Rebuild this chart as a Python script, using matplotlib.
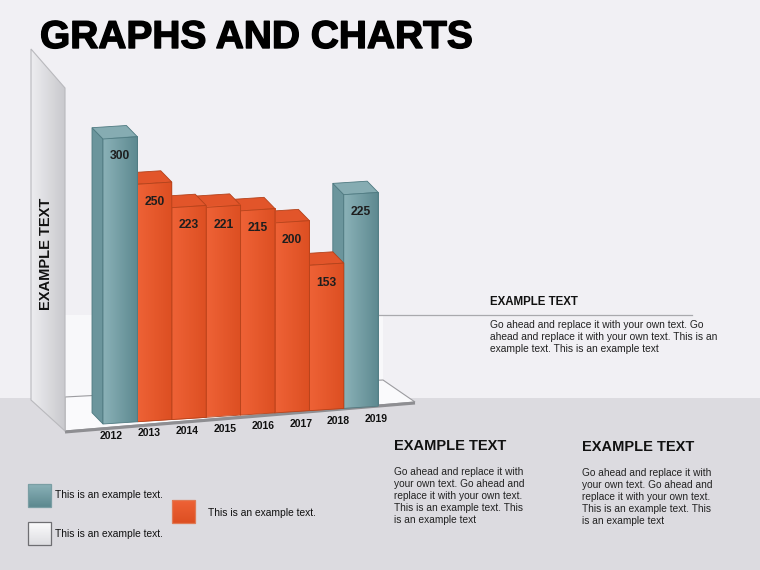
import numpy as np
import matplotlib
matplotlib.use('Agg')
import matplotlib.pyplot as plt
import matplotlib.patheffects as pe
from matplotlib.patches import Polygon, Rectangle
from matplotlib.transforms import Affine2D
from matplotlib.colors import LinearSegmentedColormap

plt.rcParams['font.family'] = ['Liberation Sans', 'DejaVu Sans']

# ── data ──────────────────────────────────────────────────────────────────────
years = ['2012', '2013', '2014', '2015', '2016', '2017', '2018', '2019']
values = [300, 250, 223, 221, 215, 200, 153, 225]
kinds = ['teal', 'orange', 'orange', 'orange', 'orange', 'orange', 'orange', 'teal']

title = 'GRAPHS AND CHARTS'
axis_title = 'EXAMPLE TEXT'
side_head = 'EXAMPLE TEXT'
side_body = ('Go ahead and replace it with your own text. Go\n'
             'ahead and replace it with your own text. This is an\n'
             'example text. This is an example text')
low_head = 'EXAMPLE TEXT'
low_body = ('Go ahead and replace it with\n'
            'your own text. Go ahead and\n'
            'replace it with your own text.\n'
            'This is an example text. This\n'
            'is an example text')
legend_txt = 'This is an example text.'

# ── colours ───────────────────────────────────────────────────────────────────
BG_TOP = '#f1f0f4'
BG_LOW = '#dcdbe0'
FACE = {
    'teal':   dict(front=('#8ab1b7', '#5d8990'), side='#6b959c', top='#86acb2', edge='#4f7a81'),
    'orange': dict(front=('#ee6236', '#dd4f22'), side='#c94a20', top='#e2552a', edge='#b3421b'),
}

W, H = 760, 570
fig = plt.figure(figsize=(W / 100, H / 100), dpi=100)
fig.patch.set_facecolor(BG_TOP)

# background / decoration layer in pixel coordinates
bg = fig.add_axes([0, 0, 1, 1])
bg.set_xlim(0, W)
bg.set_ylim(H, 0)
bg.axis('off')
bg.add_patch(Rectangle((0, 398), W, H - 398, color=BG_LOW, lw=0, zorder=0))

# back wall (white) and floor
bg.add_patch(Polygon([(65, 315), (383, 315), (383, 381), (65, 397)],
                     closed=True, fc='#f8f8fa', ec='none', zorder=1))
bg.plot([377, 692], [315, 315], color='#a9a9ad', lw=0.9, zorder=1)
bg.add_patch(Polygon([(65, 397), (383, 380), (415, 402), (65, 431)],
                     closed=True, fc='#fafafc', ec='#9c9ca0', lw=0.8, zorder=1))
bg.plot([65, 415], [432, 403], color='#8e8e92', lw=2.2, zorder=1,
        solid_capstyle='butt')

# left wall with gradient
wall = Polygon([(31, 49), (65, 88), (65, 431), (31, 400)], closed=True,
               fc='none', ec='#b9b9bd', lw=0.8, zorder=3)
bg.add_patch(wall)
wall_cmap = LinearSegmentedColormap.from_list('wall', ['#ededf0', '#c9c9cd'])
im = bg.imshow(np.linspace(0, 1, 64).reshape(1, -1), cmap=wall_cmap,
               extent=[31, 65, 431, 49], aspect='auto', zorder=2)
im.set_clip_path(wall)
bg.set_xlim(0, W)
bg.set_ylim(H, 0)
bg.text(46, 254, axis_title, rotation=90, ha='center', va='center',
        fontsize=10.5, fontweight='bold', color='#111111', zorder=4)

# title (stroke makes the bold face a bit heavier, like the original)
bg.text(40, 38, title, ha='left', va='center', fontsize=28,
        fontweight='bold', color='black',
        path_effects=[pe.withStroke(linewidth=1.0, foreground='black')])

# ── bars ──────────────────────────────────────────────────────────────────────
x0_px, base_px = 103, H - 424          # display position of (0, 0)
unit_x, unit_y = 34.4, 0.95             # pixels per bar / per value unit
ax = fig.add_axes([x0_px / W, base_px / H, 8 * unit_x / W, 340 * unit_y / H])
ax.set_xlim(0, 8)
ax.set_ylim(0, 340)
ax.axis('off')

skew = (Affine2D().translate(-x0_px, -base_px).skew_deg(0, 3.7)
        .translate(x0_px, base_px))
trans = ax.transData + skew
ddx, ddy = -11 / unit_x, 12 / unit_y    # depth vector (up-left)

n = len(values)
for i in range(n - 1, -1, -1):
    v, c = values[i], FACE[kinds[i]]
    z = 10 + (n - i)
    side = Polygon([(i, 0), (i, v), (i + ddx, v + ddy), (i + ddx, ddy)],
                   closed=True, fc=c['side'], ec=c['edge'], lw=0.6,
                   transform=trans, zorder=z, clip_on=False)
    top = Polygon([(i, v), (i + 1, v), (i + 1 + ddx, v + ddy), (i + ddx, v + ddy)],
                  closed=True, fc=c['top'], ec=c['edge'], lw=0.6,
                  transform=trans, zorder=z + 0.1, clip_on=False)
    ax.add_patch(side)
    ax.add_patch(top)
    cmap = LinearSegmentedColormap.from_list('f%d' % i, list(c['front']))
    img = ax.imshow(np.linspace(0, 1, 32).reshape(1, -1), cmap=cmap,
                    extent=[i, i + 1, 0, v], aspect='auto', zorder=z + 0.2,
                    interpolation='bilinear')
    img.set_transform(trans)
    img.set_clip_on(False)
    ax.add_patch(Rectangle((i, 0), 1, v, fc='none', ec=c['edge'], lw=0.6,
                           transform=trans, zorder=z + 0.3, clip_on=False))
    ax.annotate(str(v), xy=(i + 0.5, v), xycoords=trans, xytext=(0, -9),
                textcoords='offset points', ha='center', va='top',
                fontsize=8.7, fontweight='bold', color='#1e1e1e', zorder=30)

ax.set_xlim(0, 8)
ax.set_ylim(0, 340)

for i, yr in enumerate(years):
    ax.annotate(yr, xy=(i * 1.1 + 0.25, 0), xycoords=trans, xytext=(0, -9),
                textcoords='offset points', ha='center', va='center',
                fontsize=7.5, fontweight='bold', color='#111111')

# ── text blocks ───────────────────────────────────────────────────────────────
bg.text(490, 302, side_head, ha='left', va='center', fontsize=8.3,
        fontweight='bold', color='#111111')
bg.text(490, 320, side_body, ha='left', va='top', fontsize=7.4,
        linespacing=1.22, color='#222222')

for hx, hy in [(394, 446), (582, 447)]:
    bg.text(hx, hy, low_head, ha='left', va='center', fontsize=10.5,
            fontweight='bold', color='#111111')
    bg.text(hx, hy + 21, low_body, ha='left', va='top', fontsize=7.3,
            linespacing=1.25, color='#222222')

# legend swatches
teal_cmap = LinearSegmentedColormap.from_list('lt', list(FACE['teal']['front']))
orng_cmap = LinearSegmentedColormap.from_list('lo', list(FACE['orange']['front']))
white_cmap = LinearSegmentedColormap.from_list('lw', ['#fbfbfc', '#dedee2'])
for (sx, sy, cm, ec) in [(28, 484, teal_cmap, '#7a9ea4'),
                         (28, 522, white_cmap, '#6e6e72'),
                         (172, 500, orng_cmap, '#e07a55')]:
    bg.imshow(np.linspace(0, 1, 16).reshape(-1, 1), cmap=cm,
              extent=[sx, sx + 23, sy + 23, sy], aspect='auto', zorder=5)
    bg.add_patch(Rectangle((sx, sy), 23, 23, fc='none', ec=ec, lw=0.9, zorder=6))
bg.set_xlim(0, W)
bg.set_ylim(H, 0)

bg.text(55, 495, legend_txt, ha='left', va='center', fontsize=7.4, color='#111111')
bg.text(55, 534, legend_txt, ha='left', va='center', fontsize=7.4, color='#111111')
bg.text(208, 513, legend_txt, ha='left', va='center', fontsize=7.4, color='#111111')

fig.savefig('out.png', dpi=100, facecolor=fig.get_facecolor())
